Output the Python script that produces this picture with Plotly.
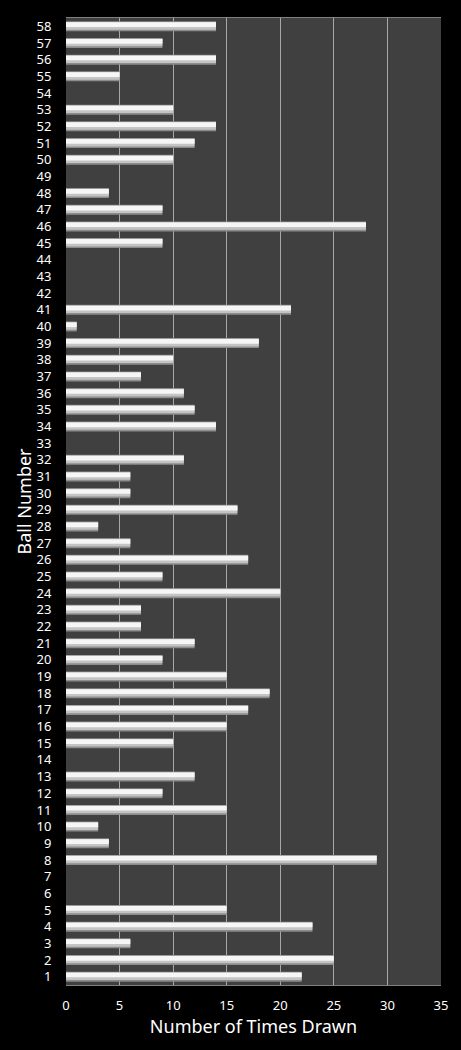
import plotly.graph_objects as go

balls = list(range(1, 59))
times_drawn = [22, 25, 6, 23, 15, 0, 0, 29, 4, 3,
               15, 9, 12, 0, 10, 15, 17, 19, 15, 9,
               12, 7, 7, 20, 9, 17, 6, 3, 16, 6,
               6, 11, 0, 14, 12, 11, 7, 10, 18, 1,
               21, 0, 0, 0, 9, 28, 9, 4, 0, 10,
               12, 14, 10, 0, 5, 14, 9, 14]
x_ticks = [0, 5, 10, 15, 20, 25, 30, 35]

fig = go.Figure()
# outer edge
fig.add_trace(go.Bar(
    x=times_drawn, y=balls, orientation="h", width=0.6, offset=-0.3,
    marker=dict(color="#8c8c8c", line=dict(width=0)), hoverinfo="skip", showlegend=False))
# mid shade
fig.add_trace(go.Bar(
    x=times_drawn, y=balls, orientation="h", width=0.46, offset=-0.2,
    marker=dict(color="#c4c4c4", line=dict(width=0)), hoverinfo="skip", showlegend=False))
# highlight core
fig.add_trace(go.Bar(
    x=times_drawn, y=balls, orientation="h", width=0.28, offset=-0.04,
    marker=dict(color="#f6f6f6", line=dict(width=0)), showlegend=False))

fig.update_layout(
    width=453, height=1042,
    paper_bgcolor="#000000", plot_bgcolor="#404040",
    margin=dict(l=58, r=20, t=10, b=65, autoexpand=False),
    barmode="overlay",
    font=dict(family="Noto Sans, DejaVu Sans, sans-serif", color="#ffffff", size=12),
    xaxis=dict(range=[0, 35], tickvals=x_ticks, showgrid=True, gridcolor="#a8a8a8", gridwidth=1,
               zeroline=False, showline=True, linecolor="#808080", mirror=True,
               ticks="outside", ticklen=8, tickcolor="rgba(0,0,0,0)",
               tickfont=dict(size=13, color="#ffffff"), automargin=False,
               title=dict(text="Number of Times Drawn", font=dict(size=18, color="#ffffff"), standoff=4)),
    yaxis=dict(range=[0.5, 58.5], tickvals=balls, ticktext=[str(b) for b in balls],
               showgrid=False, zeroline=False, showline=False, automargin=False,
               ticks="outside", ticklen=11, tickcolor="rgba(0,0,0,0)",
               tickfont=dict(size=13, color="#ffffff")),
    annotations=[dict(text="Ball Number", xref="paper", yref="paper", x=0, y=0.5,
                      xanchor="center", yanchor="middle", xshift=-43, textangle=-90,
                      showarrow=False, font=dict(size=18, color="#ffffff"))],
)

fig.write_html("out.html", post_script="document.body.style.background='#000000';")
